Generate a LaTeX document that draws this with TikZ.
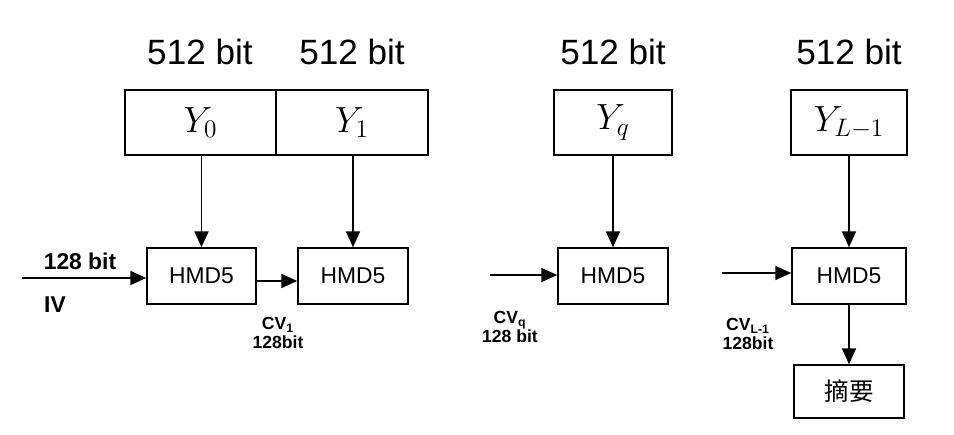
\documentclass[tikz,border=0pt]{standalone}
\usepackage{fontspec}
\setmainfont{Liberation Sans}
\newfontfamily\cjk{Noto Sans CJK SC}
\usetikzlibrary{arrows.meta}
\begin{document}
\begin{tikzpicture}[x=0.02cm,y=-0.02cm,
  blk/.style={draw,line width=0.9pt,inner sep=0pt},
  arr/.style={line width=0.8pt,-{Triangle[length=9pt,width=8pt]}},
  toplbl/.style={font=\fontsize{20}{22}\selectfont},
  ylbl/.style={font=\fontsize{20}{22}\selectfont},
  hlbl/.style={font=\fontsize{13}{15}\selectfont},
  small/.style={font=\fontsize{10}{11}\selectfont\bfseries,align=center}]
\useasboundingbox (0,0) rectangle (954,435);
% top blocks
\node[blk,minimum width=151*0.02cm,minimum height=65*0.02cm] (y0) at (200.5,122.5) {};
\node[blk,minimum width=152*0.02cm,minimum height=65*0.02cm] (y1) at (352,122.5) {};
\node[blk,minimum width=118*0.02cm,minimum height=65*0.02cm] (yq) at (613,122.5) {};
\node[blk,minimum width=116*0.02cm,minimum height=65*0.02cm] (yl) at (849,122.5) {};
\node[ylbl] at (y0) {$Y_0$};
\node[ylbl] at (y1) {$Y_1$};
\node[ylbl] at (yq) {$Y_q$};
\node[ylbl] at (yl) {$Y_{L-1}$};
\node[toplbl] (t0) at (200,52) {512 bit};
\node[toplbl] (t1) at (352,52) {512 bit};
\node[toplbl] (tq) at (613,52) {512 bit};
\node[toplbl] (tl) at (849,52) {512 bit};
% HMD5 blocks
\node[blk,minimum width=109*0.02cm,minimum height=56*0.02cm,hlbl] (h0) at (201.5,276) {HMD5};
\node[blk,minimum width=110*0.02cm,minimum height=56*0.02cm,hlbl] (h1) at (353,276) {HMD5};
\node[blk,minimum width=110*0.02cm,minimum height=56*0.02cm,hlbl] (hq) at (613,276) {HMD5};
\node[blk,minimum width=114*0.02cm,minimum height=56*0.02cm,hlbl] (hl) at (849,276) {HMD5};
\node[blk,minimum width=110*0.02cm,minimum height=53*0.02cm,font=\cjk\fontsize{14}{16}\selectfont] (dg) at (849,391.5) {摘要};
% vertical arrows
\draw[arr] (y0.south -| h0) -- (h0.north);
\draw[arr] (y1.south -| h1) -- (h1.north);
\draw[arr] (yq.south) -- (hq.north);
\draw[arr] (yl.south) -- (hl.north);
\draw[arr] (hl.south) -- (dg.north);
% horizontal arrows
\coordinate (iv) at (22,278);
\coordinate (inq) at (490,275);
\coordinate (inl) at (722,273);
\draw[arr] (iv) -- (iv -| h0.west);
\draw[arr] (h0.east |- 0,281) -- (h1.west |- 0,281);
\draw[arr] (inq) -- (inq -| hq.west);
\draw[arr] (inl) -- (inl -| hl.west);
% labels
\node[font=\fontsize{13}{15}\selectfont\bfseries] (l128) at (80,261) {128 bit};
\node[font=\fontsize{13}{15}\selectfont\bfseries] (liv) at (55,305) {IV};
\node[small] (lcv1) at (278,333) {CV\textsubscript{1}\\128bit};
\node[small] (lcvq) at (510,327) {CV\textsubscript{q}\\128 bit};
\node[small] (lcvl) at (748,334) {CV\textsubscript{L-1}\\128bit};
\end{tikzpicture}
\end{document}
